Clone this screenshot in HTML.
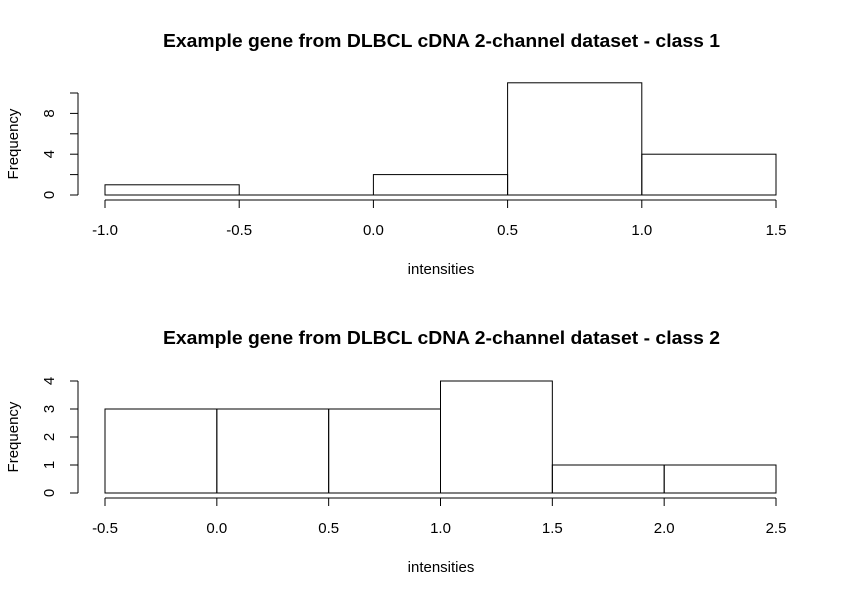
<!DOCTYPE html>
<html><head><meta charset="utf-8"><style>
body{margin:0;background:#fff}
svg text{font-family:"Liberation Sans",Arial,sans-serif;fill:#000}
</style></head><body>
<svg id="c" width="844" height="596" xmlns="http://www.w3.org/2000/svg"></svg>
<script>
const breaks1=[-1.0,-0.5,0.0,0.5,1.0,1.5];
const counts1=[1,0,2,11,4];
const xTicks1=["-1.0","-0.5","0.0","0.5","1.0","1.5"];
const yTicks1=[0,4,8];
const yMinor1=[0,2,4,6,8,10];
const breaks2=[-0.5,0.0,0.5,1.0,1.5,2.0,2.5];
const counts2=[3,3,3,4,1,1];
const xTicks2=["-0.5","0.0","0.5","1.0","1.5","2.0","2.5"];
const yTicks2=[0,1,2,3,4];
const titles=["Example gene from DLBCL cDNA 2-channel dataset - class 1","Example gene from DLBCL cDNA 2-channel dataset - class 2"];
const svg=document.getElementById('c');
const NS="http://www.w3.org/2000/svg";
function mk(t,a){const e=document.createElementNS(NS,t);for(const k in a)e.setAttribute(k,a[k]);svg.appendChild(e);return e;}
function panel(idx,breaks,counts,xt,yLab,yAll,yMax,y0,ppu){
  const x0=105,x1=776,bmin=breaks[0],bmax=breaks[breaks.length-1];
  const X=v=>x0+(v-bmin)/(bmax-bmin)*(x1-x0);
  const Y=v=>y0-v*ppu;
  const ti=mk('text',{x:163,y:idx?344:47,'font-size':'18','font-weight':'bold',textLength:557,lengthAdjust:'spacingAndGlyphs'});
  
  
  ti.textContent=titles[idx];
  for(let i=0;i<counts.length;i++){
    const r=mk('rect',{x:X(breaks[i]),y:Y(counts[i]),width:X(breaks[i+1])-X(breaks[i]),height:counts[i]*ppu,fill:'none',stroke:'#000','stroke-width':1});
    
    
    if(counts[i]===0){mk('line',{x1:X(breaks[i]),x2:X(breaks[i+1]),y1:y0,y2:y0,stroke:'#000'});}
  }
  const ax=y0+5;
  const xa=mk('line',{x1:x0,x2:x1,y1:ax,y2:ax,stroke:'#000'});
  
  
  breaks.forEach((b,i)=>{
    mk('line',{x1:X(b),x2:X(b),y1:ax,y2:ax+8,stroke:'#000'});
    const t=mk('text',{x:X(b),y:ax+35,'text-anchor':'middle','font-size':'15'});
    
    
    t.textContent=xt[i];
  });
  const xl=mk('text',{x:441,y:ax+74,'text-anchor':'middle','font-size':'15'});
  
  
  xl.textContent='intensities';
  const ya=mk('line',{x1:78,x2:78,y1:Y(yAll[yAll.length-1]),y2:Y(0),stroke:'#000'});
  
  
  yAll.forEach(v=>mk('line',{x1:70,x2:78,y1:Y(v),y2:Y(v),stroke:'#000'}));
  yLab.forEach(v=>{
    const t=mk('text',{x:0,y:0,'text-anchor':'middle','font-size':'15',transform:`translate(54,${Y(v)}) rotate(-90)`});
    
    
    t.textContent=v;
  });
  const yl=mk('text',{x:0,y:0,'text-anchor':'middle','font-size':'15',transform:`translate(18,${Y(yMax/2)}) rotate(-90)`});
  
  
  yl.textContent='Frequency';
}
panel(0,breaks1,counts1,xTicks1,yTicks1,yMinor1,10,195,10.2);
panel(1,breaks2,counts2,xTicks2,yTicks2,yTicks2,4,493,28);
</script>
</body></html>
